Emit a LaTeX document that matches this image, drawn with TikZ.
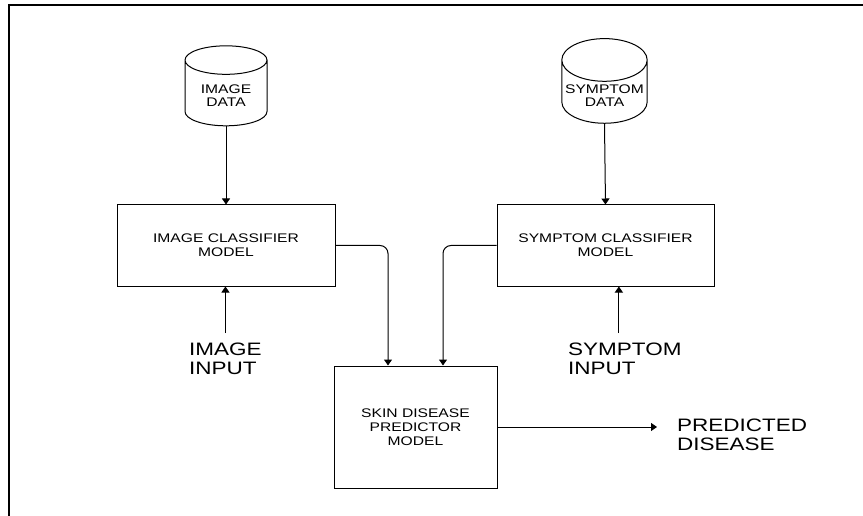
\documentclass[tikz,border=0pt]{standalone}
\usepackage{fontspec}
\setmainfont[FakeStretch=1.25]{Liberation Sans}
\usetikzlibrary{arrows.meta}
\usetikzlibrary{shapes.geometric}
\usetikzlibrary{positioning}

\tikzset{
  model/.style={draw, line width=1pt, align=center, font=\fontsize{12.5}{14}\selectfont},
  store/.style={draw, line width=1pt, cylinder, shape border rotate=90, aspect=0.5,
    minimum width=82pt, minimum height=80pt, align=center, font=\fontsize{12.5}{13}\selectfont},
  label/.style={inner sep=0pt, align=left, font=\fontsize{18}{18.5}\selectfont},
  flow/.style={-{Triangle[length=6pt,width=8pt]}, line width=1pt}
}

\begin{document}
\begin{tikzpicture}[x=1pt,y=-1pt]
  \useasboundingbox (0,0) rectangle (863,516);
  \draw[line width=1.4pt] (9,516) -- (9,5) -- (863,5);

  % data stores
  \node[store] (imgdata) at (226,96) {IMAGE\\DATA};
  \node[store] (symdata) at (604.5,96) {SYMPTOM\\DATA};

  % classifiers
  \node[model, minimum width=218pt, minimum height=81pt] (imgcls) at (226,245.5) {IMAGE CLASSIFIER\\MODEL};
  \node[model, minimum width=217pt, minimum height=81pt] (symcls) at (605.5,245.5) {SYMPTOM CLASSIFIER\\MODEL};

  % predictor
  \node[model, minimum width=163pt, minimum height=122pt] (pred) at (415.5,427) {SKIN DISEASE\\PREDICTOR\\MODEL};

  % inputs and output
  \node[label, anchor=north west] (imgin) at (189,343) {IMAGE\\INPUT};
  \node[label, anchor=north west] (symin) at (568,343) {SYMPTOM\\INPUT};
  \node[label, anchor=north west] (out) at (677,419) {PREDICTED\\DISEASE};

  \draw[flow] (imgdata.south) -- (imgcls.north);
  \draw[flow] (symdata.south) -- (symcls.north);
  \draw[flow] ([yshift=10pt]imgin.north) -- (imgin.north |- imgcls.south);
  \draw[flow] ([yshift=10pt,xshift=-6pt]symin.north) -- ([xshift=-6pt]symin.north |- symcls.south);
  \draw[flow, rounded corners=8pt] (imgcls.east) -| ([xshift=-27.5pt]pred.north);
  \draw[flow, rounded corners=8pt] (symcls.west) -| ([xshift=27.5pt]pred.north);
  \draw[flow, shorten >=20pt] (pred.east) -- (pred.east -| out.west);
\end{tikzpicture}
\end{document}
